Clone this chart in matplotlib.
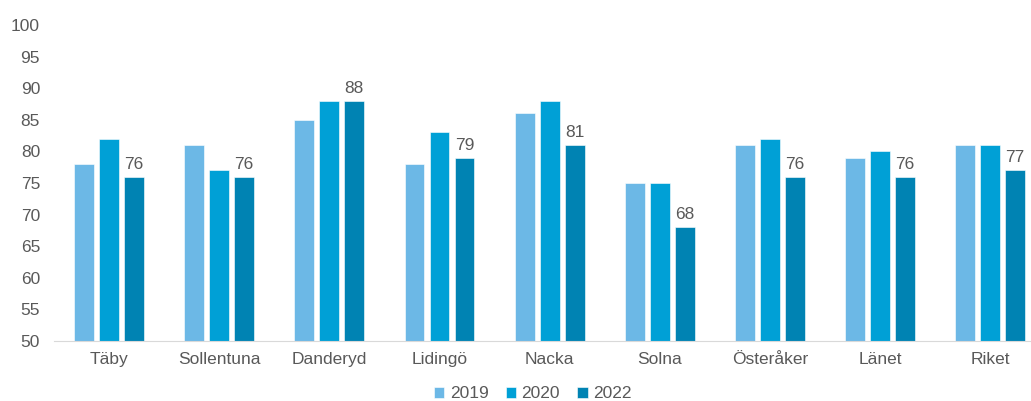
import numpy as np
import matplotlib.pyplot as plt

plt.rcParams['font.family'] = ['Liberation Sans', 'DejaVu Sans']

kommuner = ["Täby", "Sollentuna", "Danderyd", "Lidingö", "Nacka", "Solna",
            "Österåker", "Länet", "Riket"]
v2019 = [78, 81, 85, 78, 86, 75, 81, 79, 81]
v2020 = [82, 77, 88, 83, 88, 75, 82, 80, 81]
v2022 = [76, 76, 88, 79, 81, 68, 76, 76, 77]
years = ["2019", "2020", "2022"]
colors = ["#6CB8E6", "#00A0D6", "#0083B3"]
grey = "#595959"

fig = plt.figure(figsize=(10.31, 4.01), dpi=100)
ax = fig.add_axes([54/1031, 1 - 341/401, 1 - 54/1031, (341 - 25)/401])

x = np.arange(len(kommuner))
w = 0.18
step = 0.227
for i, (vals, c, lab) in enumerate(zip([v2019, v2020, v2022], colors, years)):
    bars = ax.bar(x + (i - 1) * step, np.array(vals) - 50, bottom=50, width=w,
                  color=c, edgecolor="white", linewidth=0.4, label=lab)
    if lab == "2022":
        for b, v in zip(bars, vals):
            ax.text(b.get_x() + b.get_width() / 2, v + 0.8, str(v),
                    ha="center", va="bottom", fontsize=12.5, color=grey)

ax.set_ylim(50, 100)
ax.set_yticks(range(50, 101, 5))
ax.set_xlim(-0.5, 8.37)
ax.set_xticks(x)
ax.set_xticklabels(kommuner)
ax.tick_params(axis="both", length=0, labelsize=12.5, colors=grey)
ax.tick_params(axis="y", pad=10)
ax.tick_params(axis="x", pad=8)
for s in ["top", "right", "left"]:
    ax.spines[s].set_visible(False)
ax.spines["bottom"].set_color("#D9D9D9")

leg = ax.legend(loc="lower center", bbox_to_anchor=(0.49, -0.24), ncol=3,
                frameon=False, fontsize=12.5, handlelength=0.6, handleheight=0.6,
                handletextpad=0.3, columnspacing=1.0)
for t in leg.get_texts():
    t.set_color(grey)

fig.savefig("out.png", dpi=100)
